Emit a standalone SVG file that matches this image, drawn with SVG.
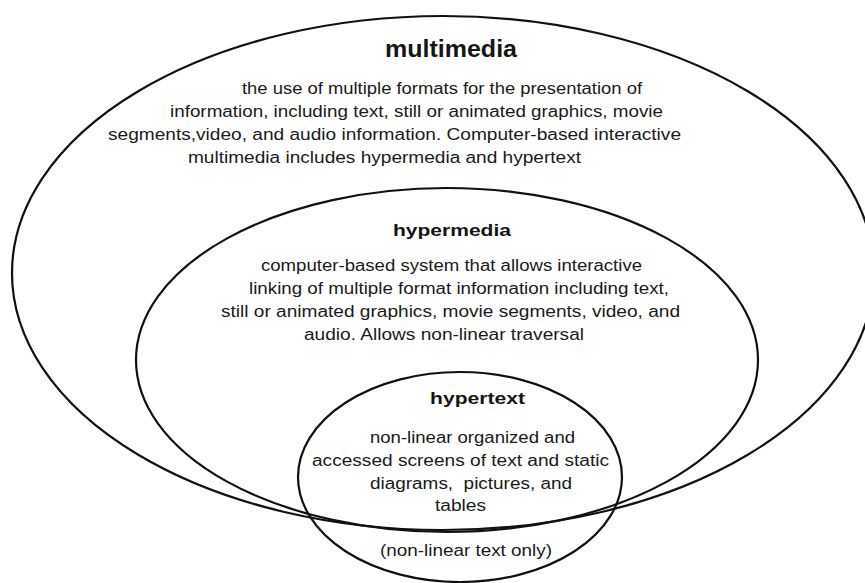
<svg xmlns="http://www.w3.org/2000/svg" width="865" height="583" viewBox="0 0 865 583">
<style>
.bg{fill:#ffffff}
.ring{fill:none;stroke:#111111;stroke-width:2.2}
.title{font-family:"Liberation Sans",Arial,sans-serif;font-weight:bold;fill:#151515}
.body{font-family:"Liberation Sans",Arial,sans-serif;font-size:16px;fill:#1a1a1a}
</style>
<rect class="bg" x="0" y="0" width="865" height="583"/>
<g id="multimedia">
<ellipse class="ring" cx="443" cy="273" rx="431" ry="257"/>
<text class="title" x="385" y="57" font-size="23" textLength="132" lengthAdjust="spacingAndGlyphs">multimedia</text>
<text class="body" x="242" y="94" textLength="400" lengthAdjust="spacingAndGlyphs">the use of multiple formats for the presentation of</text>
<text class="body" x="170" y="117" textLength="493" lengthAdjust="spacingAndGlyphs">information, including text, still or animated graphics, movie</text>
<text class="body" x="108" y="140" textLength="573" lengthAdjust="spacingAndGlyphs">segments,video, and audio information. Computer-based interactive</text>
<text class="body" x="188" y="163" textLength="393" lengthAdjust="spacingAndGlyphs">multimedia includes hypermedia and hypertext</text>
</g>
<g id="hypermedia">
<ellipse class="ring" cx="447" cy="360" rx="311" ry="172"/>
<text class="title" x="393" y="236" font-size="17" textLength="118" lengthAdjust="spacingAndGlyphs">hypermedia</text>
<text class="body" x="261" y="271" textLength="381" lengthAdjust="spacingAndGlyphs">computer-based system that allows interactive</text>
<text class="body" x="249" y="294" textLength="420" lengthAdjust="spacingAndGlyphs">linking of multiple format information including text,</text>
<text class="body" x="221" y="317" textLength="459" lengthAdjust="spacingAndGlyphs">still or animated graphics, movie segments, video, and</text>
<text class="body" x="304" y="340" textLength="280" lengthAdjust="spacingAndGlyphs">audio. Allows non-linear traversal</text>
</g>
<g id="hypertext">
<ellipse class="ring" cx="460" cy="477" rx="162" ry="105"/>
<text class="title" x="430" y="404" font-size="17" textLength="95" lengthAdjust="spacingAndGlyphs">hypertext</text>
<text class="body" x="370" y="443" textLength="205" lengthAdjust="spacingAndGlyphs">non-linear organized and</text>
<text class="body" x="312" y="466" textLength="297" lengthAdjust="spacingAndGlyphs">accessed screens of text and static</text>
<text class="body" x="370" y="489" textLength="202" lengthAdjust="spacingAndGlyphs" xml:space="preserve">diagrams,  pictures, and</text>
<text class="body" x="435" y="511" textLength="51" lengthAdjust="spacingAndGlyphs">tables</text>
<text class="body" x="380" y="556" textLength="172" lengthAdjust="spacingAndGlyphs">(non-linear text only)</text>
</g>
</svg>
